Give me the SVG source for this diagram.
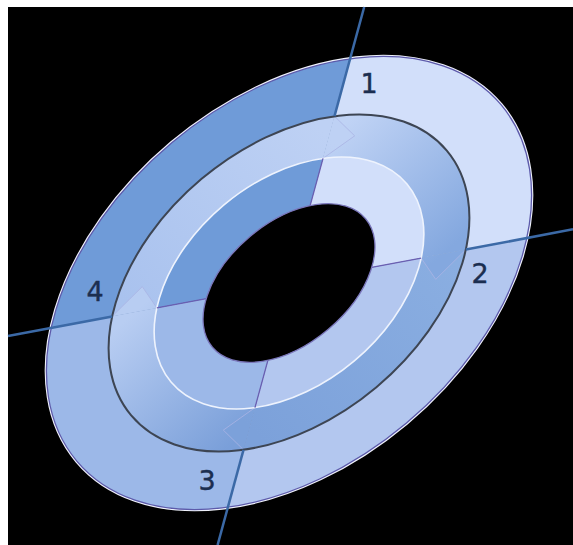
<svg xmlns="http://www.w3.org/2000/svg" width="573" height="545" viewBox="0 0 573 545">
<style>
.ns{vector-effect:non-scaling-stroke}
.axis{stroke:#3b69a6;stroke-width:2.5;fill:none;stroke-linecap:butt}
.lbl{font-family:"DejaVu Sans","Liberation Sans",sans-serif;font-size:27px;fill:#1b2e50;stroke:#1b2e50;stroke-width:0.4;text-anchor:middle}
.head{stroke:#a9b4e4;stroke-width:0.9;stroke-opacity:0.9}
.div{stroke:#6a5fb2;stroke-width:1.3;fill:none}
</style>
<defs>
<linearGradient id="gUR" gradientUnits="userSpaceOnUse" x1="124.1" y1="-130.4" x2="137.1" y2="116.7"><stop offset="0" stop-color="#c0d3f5"/><stop offset="1" stop-color="#84a8df"/></linearGradient>
<linearGradient id="gLR" gradientUnits="userSpaceOnUse" x1="137.1" y1="116.7" x2="-124.1" y2="130.4"><stop offset="0" stop-color="#8aaee1"/><stop offset="1" stop-color="#7ca1da"/></linearGradient>
<linearGradient id="gLL" gradientUnits="userSpaceOnUse" x1="-124.1" y1="130.4" x2="-137.1" y2="-116.7"><stop offset="0" stop-color="#7a9fd9"/><stop offset="1" stop-color="#b8cdf2"/></linearGradient>
<linearGradient id="gUL" gradientUnits="userSpaceOnUse" x1="-137.1" y1="-116.7" x2="124.1" y2="-130.4"><stop offset="0" stop-color="#a9c2ee"/><stop offset="1" stop-color="#bed1f4"/></linearGradient>
</defs>
<rect x="0" y="0" width="573" height="545" fill="#ffffff"/>
<rect x="8" y="7" width="565" height="538" fill="#000000"/>
<g transform="translate(289,283) rotate(-40) scale(1,0.66)">
<circle class="ns" r="277" fill="none" stroke="#eef1fb" stroke-width="3.5"/>
<g id="segment-1"><path d="M0 0 L191.0 -200.6 A277 277 0 0 1 210.9 179.5 Z" fill="#d2dffa"/></g>
<g id="segment-2"><path d="M0 0 L210.9 179.5 A277 277 0 0 1 -191.0 200.6 Z" fill="#b3c7ef"/></g>
<g id="segment-3"><path d="M0 0 L-191.0 200.6 A277 277 0 0 1 -210.9 -179.5 Z" fill="#9cb8e8"/></g>
<g id="segment-4"><path d="M0 0 L-210.9 -179.5 A277 277 0 0 1 191.0 -200.6 Z" fill="#6f9bd8"/></g>
<circle class="ns" r="277" fill="none" stroke="#5c5aaa" stroke-width="1.3"/>
<g id="cycle-arrows">
<path id="arrow-1-body" d="M142.06 -149.19 A206 206 0 0 1 156.87 133.51 L117.27 99.81 A154 154 0 0 0 106.20 -111.53 Z" fill="url(#gUR)"/>
<path id="arrow-2-body" d="M156.87 133.51 A206 206 0 0 1 -142.06 149.19 L-106.20 111.53 A154 154 0 0 0 117.27 99.81 Z" fill="url(#gLR)"/>
<path id="arrow-3-body" d="M-142.06 149.19 A206 206 0 0 1 -156.87 -133.51 L-117.27 -99.81 A154 154 0 0 0 -106.20 111.53 Z" fill="url(#gLL)"/>
<path id="arrow-4-body" d="M-156.87 -133.51 A206 206 0 0 1 142.06 -149.19 L106.20 -111.53 A154 154 0 0 0 -117.27 -99.81 Z" fill="url(#gUL)"/>
<path id="arrow-4-head" class="head ns" d="M142.06 -149.19 L144.88 -106.81 L106.20 -111.53" fill="url(#gUL)"/>
<path id="arrow-1-head" class="head ns" d="M156.87 133.51 L114.73 138.69 L117.27 99.81" fill="url(#gUR)"/>
<path id="arrow-2-head" class="head ns" d="M-142.06 149.19 L-144.88 106.81 L-106.20 111.53" fill="url(#gLR)"/>
<path id="arrow-3-head" class="head ns" d="M-156.87 -133.51 L-114.73 -138.69 L-117.27 -99.81" fill="url(#gLL)"/>
</g>
<circle class="ns" r="206" fill="none" stroke="#3d4553" stroke-width="2"/>
<circle class="ns" r="154" fill="none" stroke="#eef3fd" stroke-width="1.6"/>
<g id="inner-dividers">
<line class="div ns" x1="106.20" y1="-111.53" x2="62.06" y2="-65.18"/>
<line class="div ns" x1="117.27" y1="99.81" x2="68.54" y2="58.33"/>
<line class="div ns" x1="-106.20" y1="111.53" x2="-62.06" y2="65.18"/>
<line class="div ns" x1="-117.27" y1="-99.81" x2="-68.54" y2="-58.33"/>
</g>
<ellipse class="ns" rx="100" ry="92" fill="#000000" stroke="#7a76ba" stroke-width="1.3"/>
</g>
<g id="connectors">
<line class="axis" x1="364.2" y1="7" x2="334.5" y2="116.1"/>
<line class="axis" x1="573" y1="229.3" x2="465.8" y2="249.6"/>
<line class="axis" x1="217.6" y1="545" x2="243.5" y2="449.9"/>
<line class="axis" x1="8" y1="336.1" x2="112.2" y2="316.4"/>
</g>
<g id="labels">
<text class="lbl" x="369" y="93">1</text>
<text class="lbl" x="480" y="283">2</text>
<text class="lbl" x="207" y="490">3</text>
<text class="lbl" x="95" y="301">4</text>
</g>
</svg>
